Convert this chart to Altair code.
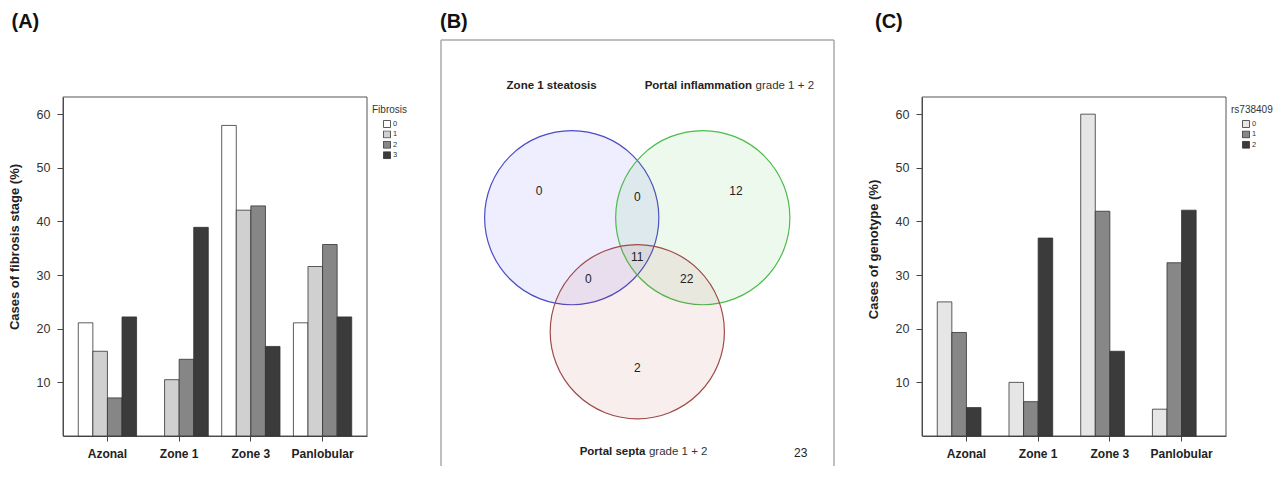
import math
import altair as alt
import pandas as pd

# ---------------- data ----------------
zones = ["Azonal", "Zone 1", "Zone 3", "Panlobular"]

fib_stages = ["0", "1", "2", "3"]
fib_0 = [21.1, 0.0, 57.9, 21.1]
fib_1 = [15.8, 10.5, 42.1, 31.6]
fib_2 = [7.1, 14.3, 42.9, 35.7]
fib_3 = [22.2, 38.9, 16.7, 22.2]
fib_colors = ["#ffffff", "#d0d0d0", "#868686", "#3b3b3b"]

geno = ["0", "1", "2"]
gen_0 = [25.0, 10.0, 60.0, 5.0]
gen_1 = [19.3, 6.4, 41.9, 32.3]
gen_2 = [5.3, 36.9, 15.8, 42.1]
gen_colors = ["#e6e6e6", "#878787", "#3b3b3b"]

y_ticks = [10, 20, 30, 40, 50, 60]
y_top = 63.2

# Venn diagram (units: circle radius = 1)
set_names = ["Zone 1 steatosis", "Portal inflammation", "Portal septa"]
set_cx = [-0.667, 0.666, 0.0]
set_cy = [0.387, 0.387, -0.773]
set_stroke = ["#4b4bc6", "#4dbb4d", "#9e4a4a"]
set_fill = ["#4646f0", "#46c046", "#b04848"]

region_counts = ["0", "0", "12", "11", "0", "22", "2", "23"]
region_x = [-1.0, 0.0, 1.004, 0.0, -0.498, 0.503, 0.0, 1.662]
region_y = [0.658, 0.594, 0.658, -0.01, -0.24, -0.24, -1.145, -2.004]

label_bold = ["Zone 1 steatosis", "Portal inflammation", "Portal septa"]
label_rest = ["", "grade 1 + 2", "grade 1 + 2"]
label_x = [-0.413, 1.167, 0.083]
label_y = [1.727, 1.727, -1.994]

FONT = "Liberation Sans, Arial, Helvetica, sans-serif"

# ---------------- layout (pixels) ----------------
WA, HA = 304, 396          # panel A/C view
Y0_PX, YTOP_PX = 396, 57   # pixel rows of 0 and y_top
WB, HB = 407, 426          # panel B view
FRAME_B = 393
K = 98.3                   # px per Venn unit
OX, OY = 196.3, 215.7      # Venn origin inside B view

one = pd.DataFrame({"k": [0]})


def bar_panel(values_lists, cats, colors, field, legend_title, ytitle, letter,
              title_y, letter_x, anchor=False):
    rows = []
    for c, vals in zip(cats, values_lists):
        for z, v in zip(zones, vals):
            rows.append({"zone": z, field: c, "value": v})
    df = pd.DataFrame(rows)

    bars = alt.Chart(df).transform_filter("datum.value > 0").mark_bar(
        stroke="#333333", strokeWidth=0.8).encode(
        x=alt.X("zone:N", sort=zones,
                scale=alt.Scale(domain=zones, paddingInner=0.187, paddingOuter=0.213),
                axis=alt.Axis(title=None, labelFontSize=12, labelFontWeight="bold",
                              labelColor="#222222", labelAngle=0, labelPadding=7,
                              tickSize=5, tickColor="#444444", domainColor="#444444",
                              grid=False)),
        xOffset=alt.XOffset(f"{field}:N", sort=cats,
                            scale=alt.Scale(domain=cats, paddingInner=0, paddingOuter=0)),
        y=alt.Y("value:Q",
                scale=alt.Scale(domain=[0, y_top], range=[Y0_PX, YTOP_PX], nice=False),
                axis=alt.Axis(values=y_ticks, title=ytitle, titleFontSize=13,
                              titleFontWeight="bold", titleColor="#222222",
                              titleX=-49, titleY=title_y, titleAngle=270,
                              titleAlign="center", titleBaseline="middle",
                              labelFontSize=12.5, labelColor="#333333", labelPadding=7,
                              tickSize=6, tickColor="#444444", domainColor="#444444",
                              grid=False)),
        fill=alt.Fill(f"{field}:N", sort=cats,
                      scale=alt.Scale(domain=cats, range=colors),
                      legend=alt.Legend(orient="none", legendX=309, legendY=65,
                                        title=legend_title, titleFontSize=10,
                                        titleFontWeight="normal", titleColor="#333333",
                                        titlePadding=5, symbolType="square",
                                        symbolSize=49, symbolStrokeColor="#333333",
                                        symbolStrokeWidth=0.8, labelFontSize=7.5,
                                        labelColor="#333333", labelOffset=2,
                                        clipHeight=8, rowPadding=2.4,
                                        symbolOffset=11, padding=0)),
    )

    frame = alt.Chart(one).mark_rect(filled=False, stroke="#555555", strokeWidth=1).encode(
        x=alt.value(0), x2=alt.value(WA), y=alt.value(YTOP_PX), y2=alt.value(Y0_PX))

    let = alt.Chart(pd.DataFrame({"t": [letter]})).mark_text(
        align="left", baseline="middle", fontSize=20, fontWeight="bold", color="#111111"
    ).encode(text="t:N", x=alt.value(letter_x), y=alt.value(-18))

    layers = [frame, bars, let]
    if anchor:
        anc = alt.Chart(one).mark_rule(opacity=0, strokeWidth=1).encode(
            x=alt.value(-55), x2=alt.value(-55), y=alt.value(-32), y2=alt.value(-31))
        layers.append(anc)
    return alt.layer(*layers).properties(width=WA, height=HA)


panelA = bar_panel([fib_0, fib_1, fib_2, fib_3], fib_stages, fib_colors, "stage",
                   "Fibrosis", "Cases of fibrosis stage (%)", "(A)", 206.5, -51.5,
                   anchor=True)
panelC = bar_panel([gen_0, gen_1, gen_2], geno, gen_colors, "genotype",
                   "rs738409", "Cases of genotype (%)", "(C)", 209, -47)

# ---------------- panel B: Venn ----------------
xdom = [-OX / K, (WB - OX) / K]
ydom = [(OY - HB) / K, OY / K]
xs = alt.Scale(domain=xdom, nice=False, zero=False)
ys = alt.Scale(domain=ydom, nice=False, zero=False)

df_sets = pd.DataFrame({"name": set_names, "cx": set_cx, "cy": set_cy})
circle_size = math.pi * (K * 1.0) ** 2

circles = alt.Chart(df_sets).mark_circle(fillOpacity=0.09, strokeOpacity=1,
                                         strokeWidth=1.2, size=circle_size).encode(
    x=alt.X("cx:Q", scale=xs, axis=None),
    y=alt.Y("cy:Q", scale=ys, axis=None),
    fill=alt.Fill("name:N", scale=alt.Scale(domain=set_names, range=set_fill), legend=None),
    stroke=alt.Stroke("name:N", scale=alt.Scale(domain=set_names, range=set_stroke),
                      legend=None),
)

df_reg = pd.DataFrame({"t": region_counts, "x": region_x, "y": region_y})
counts = alt.Chart(df_reg).mark_text(fontSize=12, color="#222222").encode(
    x=alt.X("x:Q", scale=xs, axis=None), y=alt.Y("y:Q", scale=ys, axis=None), text="t:N")

df_lab = pd.DataFrame({"b": label_bold, "r": label_rest, "x": label_x, "y": label_y})
lab_b = alt.Chart(df_lab).mark_text(fontSize=11.5, fontWeight="bold", align="right",
                                    color="#222222").encode(
    x=alt.X("x:Q", scale=xs, axis=None), y=alt.Y("y:Q", scale=ys, axis=None), text="b:N")
lab_r = alt.Chart(df_lab).mark_text(fontSize=11.5, align="left", dx=3.5,
                                    color="#333333").encode(
    x=alt.X("x:Q", scale=xs, axis=None), y=alt.Y("y:Q", scale=ys, axis=None), text="r:N")

fr_left = alt.Chart(one).mark_rule(color="#aaaaaa", strokeWidth=1.5).encode(
    x=alt.value(0), x2=alt.value(0), y=alt.value(0), y2=alt.value(HB))
fr_top = alt.Chart(one).mark_rule(color="#aaaaaa", strokeWidth=1.5).encode(
    x=alt.value(0), x2=alt.value(FRAME_B), y=alt.value(0), y2=alt.value(0))
fr_right = alt.Chart(one).mark_rule(color="#aaaaaa", strokeWidth=1.5).encode(
    x=alt.value(FRAME_B), x2=alt.value(FRAME_B), y=alt.value(0), y2=alt.value(HB))

letB = alt.Chart(pd.DataFrame({"t": ["(B)"]})).mark_text(
    align="left", baseline="middle", fontSize=20, fontWeight="bold", color="#111111"
).encode(text="t:N", x=alt.value(-1), y=alt.value(-18))

panelB = alt.layer(fr_left, fr_top, fr_right, circles, counts, lab_b, lab_r, letB
                   ).properties(width=WB, height=HB)

chart = alt.hconcat(panelA, panelB, panelC, spacing=74, bounds="flush", padding=0
                    ).resolve_scale(fill="independent", stroke="independent"
                    ).configure(font=FONT).configure_view(strokeWidth=0)

chart.save("out.html", embed_options={"renderer": "svg", "actions": False})
